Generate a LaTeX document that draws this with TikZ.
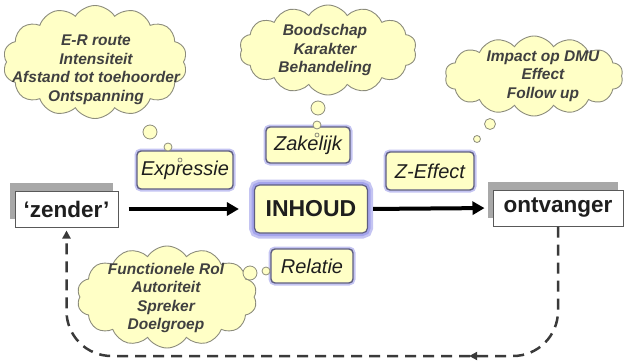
\documentclass[tikz,border=0pt]{standalone}
\usepackage{fontspec}
\setmainfont{Liberation Sans}
\usetikzlibrary{shapes.symbols,arrows.meta,decorations.markings,shadows}

\definecolor{pale}{HTML}{FFFFC6}
\definecolor{cloudline}{HTML}{8C8C7C}
\definecolor{boxline}{HTML}{5E5E80}
\definecolor{glow}{HTML}{C4C4F2}
\definecolor{glowstrong}{HTML}{A4A4EC}
\definecolor{ink}{HTML}{1E1E1E}
\definecolor{shadowgray}{HTML}{A8A8A8}
\definecolor{loopgray}{HTML}{3A3A3A}

\tikzset{
  thought/.style={cloud, cloud puffs=14, cloud puff arc=115, cloud ignores aspect,
    draw=cloudline, line width=0.9pt, fill=pale, inner sep=0pt},
  thoughttext/.style={align=center, text=ink!85,
    font=\fontsize{15.5}{18.5}\selectfont\bfseries\itshape},
  bubble/.style={circle, draw=cloudline, fill=pale, line width=0.8pt, inner sep=0pt},
  aspectbox/.style={rectangle, rounded corners=4pt, draw=boxline, line width=1.4pt,
    fill=pale, text=ink, inner sep=0pt, font=\fontsize{20}{24}\selectfont\itshape,
    preaction={draw=glow, line width=5pt}},
  corebox/.style={rectangle, rounded corners=5pt, draw=boxline, line width=1.2pt,
    fill=pale, text=ink, inner sep=0pt, font=\fontsize{23}{27}\selectfont\bfseries,
    preaction={draw=glow, line width=11pt},
    preaction={draw=glowstrong, line width=6pt}},
  partybox/.style={rectangle, draw=black!65, line width=1pt, fill=white, text=ink,
    inner sep=0pt, font=\fontsize{22.5}{26}\selectfont\bfseries,
    general shadow={fill=shadowgray, shadow xshift=-5pt, shadow yshift=8pt}},
  flow/.style={line width=4pt, draw=black, -{Triangle[length=12pt,width=13pt]}},
  feedback/.style={draw=loopgray, line width=2.5pt, dash pattern=on 11pt off 7pt,
    rounded corners=45pt, -{Triangle[length=8pt,width=8pt]}, shorten >=3pt,
    postaction={decorate, decoration={markings,
      mark=at position 0.28 with {\arrow{Triangle[length=8pt,width=8pt]}}}}}
}

\begin{document}
\begin{tikzpicture}[x=1pt,y=-1pt]
\useasboundingbox (0,0) rectangle (627,364);

% thought clouds
\node[thought, minimum width=184, minimum height=113] (c1) at (95,62) {};
\node[thought, minimum width=177, minimum height=90] (c2) at (328,50) {};
\node[thought, minimum width=178, minimum height=80] (c3) at (534,76) {};
\node[thought, minimum width=180, minimum height=102] (c4) at (167,297) {};

\node[thoughttext] (t1) at (96,70) {E-R route\\Intensiteit\\Afstand tot toehoorder\\Ontspanning};
\node[thoughttext] (t2) at (325,50) {Boodschap\\Karakter\\Behandeling};
\node[thoughttext] (t3) at (543,76) {Impact op DMU\\Effect\\Follow up};
\node[thoughttext] (t4) at (166,298) {Functionele Rol\\Autoriteit\\Spreker\\Doelgroep};

% senders and receivers
\node[partybox, minimum width=103, minimum height=36] (zender) at (66.5,209) {‘zender’};
\node[partybox, minimum width=130, minimum height=36] (ontvanger) at (558,208) {ontvanger};

% content and its aspects
\node[corebox, minimum width=113, minimum height=48] (inhoud) at (311,209) {INHOUD};
\node[aspectbox, minimum width=96, minimum height=38] (expressie) at (185,170) {Expressie};
\node[aspectbox, minimum width=84, minimum height=36] (zakelijk) at (308,145) {Zakelijk};
\node[aspectbox, minimum width=88, minimum height=38] (zeffect) at (430,171) {Z-Effect};
\node[aspectbox, minimum width=82, minimum height=34] (relatie) at (312,266) {Relatie};

% thought bubbles
\node[bubble, minimum size=14] (b1a) at (150,132) {};
\node[bubble, minimum size=8] (b1b) at (168,147) {};
\node[bubble, minimum size=4] (b1c) at (180,160) {};
\node[bubble, minimum size=14] (b2a) at (318,108) {};
\node[bubble, minimum size=8] (b2b) at (317,125) {};
\node[bubble, minimum size=4] (b2c) at (317,135) {};
\node[bubble, minimum size=11] (b3a) at (490,124) {};
\node[bubble, minimum size=7] (b3b) at (477,139) {};
\node[bubble, minimum size=14] (b4a) at (250,273) {};
\node[bubble, minimum size=8] (b4b) at (266,271) {};

% main flow
\draw[flow, shorten <=10pt, shorten >=15pt] (zender.east) -- (inhoud.west);
\draw[flow, shorten <=5pt, shorten >=8pt] (inhoud.east) -- (ontvanger.west);

% feedback loop
\coordinate (corner) at (66.5,356);
\draw[feedback] (ontvanger.south) |- (corner) -- (zender.south);
\end{tikzpicture}
\end{document}
